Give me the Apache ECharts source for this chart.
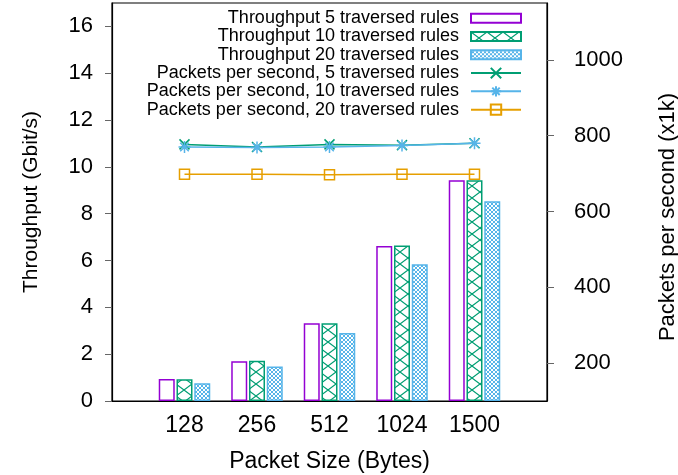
<!DOCTYPE html>
<html>
<head>
<meta charset="utf-8">
<script src="https://cdn.jsdelivr.net/npm/echarts@6/dist/echarts.min.js"></script>
<style>
  html, body { margin: 0; padding: 0; background: #fff; }
  #chart { width: 678px; height: 475px; }
</style>
</head>
<body>
<div id="chart"></div>
<script>
// data
const packetSizes = ['128', '256', '512', '1024', '1500'];
const tput5 = [0.94, 1.70, 3.32, 6.62, 9.43];
const tput10 = [0.93, 1.72, 3.32, 6.64, 9.43];
const tput20 = [0.76, 1.47, 2.90, 5.84, 8.53];
const pps5 = [777, 770, 777, 775, 780];
const pps10 = [770, 769, 770, 774, 780];
const pps20 = [698, 698, 697, 698, 698];
const leftTicks = [0, 2, 4, 6, 8, 10, 12, 14, 16];
const rightTicks = [200, 400, 600, 800, 1000];

const purple = '#9400d3';
const green = '#009e73';
const blue = '#56b4e9';
const orange = '#e69f00';
const font = "'Liberation Sans', Arial, sans-serif";

// hatch fills like gnuplot's fill patterns
function makePattern(w, h, color, lw, lines) {
    const c = document.createElement('canvas');
    c.width = w; c.height = h;
    const ctx = c.getContext('2d');
    ctx.fillStyle = '#fff';
    ctx.fillRect(0, 0, w, h);
    ctx.strokeStyle = color;
    ctx.lineWidth = lw;
    ctx.beginPath();
    lines.forEach(l => { ctx.moveTo(l[0], l[1]); ctx.lineTo(l[2], l[3]); });
    ctx.stroke();
    return { image: c, repeat: 'repeat' };
}
const greenFill = makePattern(16, 12, green, 1.2, [[0, 0, 16, 12], [16, 0, 0, 12]]);
const blueFill = makePattern(4, 4, blue, 1, [[0, 0, 4, 4], [4, 0, 0, 4], [-1, 3, 1, 5], [3, -1, 5, 1], [-1, 1, 1, -1], [3, 5, 5, 3]]);

// pad one empty slot each side (gnuplot xrange -1:5)
const cats = [''].concat(packetSizes, ['']);
const pad = arr => [null].concat(arr, [null]);

const names = [
    'Throughput 5 traversed rules',
    'Throughput 10 traversed rules',
    'Throughput 20 traversed rules',
    'Packets per second, 5 traversed rules',
    'Packets per second, 10 traversed rules',
    'Packets per second, 20 traversed rules'
];

const crossPath = 'path://M0 0L10 10M10 0L0 10';
const starPath = 'path://M2 2L12 12M12 2L2 12M7 0L7 14M0 7L14 7';

const chart = echarts.init(document.getElementById('chart'));

const barBase = { type: 'bar', barWidth: 16, barGap: '11%', yAxisIndex: 0 };
const legendBase = {
    orient: 'vertical',
    right: 156,
    align: 'right',
    padding: 0,
    itemWidth: 50, itemGap: 0,
    textStyle: { fontSize: 18, color: '#000', fontFamily: font, lineHeight: 18.3, padding: [0, 7, 0, 0] }
};

chart.setOption({
    animation: false,
    backgroundColor: '#fff',
    textStyle: { fontFamily: font },
    grid: {
        left: 112, right: 131, top: 3, bottom: 74,
        outerBoundsMode: 'none',
        containLabel: false,
        show: true, borderColor: '#000', borderWidth: 1.2
    },
    legend: [
        Object.assign({}, legendBase, {
            top: 9, itemHeight: 9,
            data: [
                { name: names[0], icon: 'rect' },
                { name: names[1], icon: 'rect' },
                { name: names[2], icon: 'rect' }
            ]
        }),
        Object.assign({}, legendBase, {
            top: 63.9, itemHeight: 13,
            data: [names[3], names[4], names[5]]
        })
    ],
    xAxis: {
        type: 'category',
        data: cats,
        boundaryGap: false,
        axisLine: { show: true, lineStyle: { color: '#000', width: 1.2 } },
        axisTick: { show: false },
        axisLabel: { fontSize: 23, color: '#000', margin: 13, interval: 0 },
        splitLine: { show: false },
        name: 'Packet Size (Bytes)',
        nameLocation: 'middle',
        nameGap: 49,
        nameTextStyle: { fontSize: 23, color: '#000' }
    },
    yAxis: [
        {
            type: 'value',
            position: 'left',
            min: 0, max: 17,
            axisLine: { show: true, lineStyle: { color: '#000', width: 1.2 } },
            axisTick: { show: true, length: 7, customValues: leftTicks, lineStyle: { color: '#666' } },
            axisLabel: { fontSize: 22, color: '#000', margin: 19, customValues: leftTicks },
            splitLine: { show: false },
            name: 'Throughput (Gbit/s)',
            nameLocation: 'middle',
            nameGap: 70,
            nameTextStyle: { fontSize: 21, color: '#000' }
        },
        {
            type: 'value',
            position: 'right',
            min: 100, max: 1150,
            axisLine: { show: true, lineStyle: { color: '#000', width: 1.2 } },
            axisTick: { show: true, length: 7, customValues: rightTicks, lineStyle: { color: '#666' } },
            axisLabel: { fontSize: 22, color: '#000', margin: 27, customValues: rightTicks, formatter: v => String(v) },
            splitLine: { show: false },
            name: 'Packets per second (x1k)',
            nameLocation: 'middle',
            nameGap: 110,
            nameTextStyle: { fontSize: 22, color: '#000', padding: [0, 30, 0, 0] }
        }
    ],
    series: [
        Object.assign({}, barBase, {
            name: names[0], data: pad(tput5),
            itemStyle: { color: 'rgba(255,255,255,0)', borderColor: purple, borderWidth: 1.5 }
        }),
        Object.assign({}, barBase, {
            name: names[1], data: pad(tput10),
            itemStyle: { color: greenFill, borderColor: green, borderWidth: 1.5 }
        }),
        Object.assign({}, barBase, {
            name: names[2], data: pad(tput20),
            itemStyle: { color: blueFill, borderColor: blue, borderWidth: 1.5 }
        }),
        {
            name: names[3], type: 'line', yAxisIndex: 1, data: pad(pps5),
            symbol: crossPath, symbolSize: 10,
            lineStyle: { color: green, width: 1.5 },
            itemStyle: { color: green, borderColor: green, borderWidth: 1.5 }
        },
        {
            name: names[4], type: 'line', yAxisIndex: 1, data: pad(pps10),
            symbol: starPath, symbolSize: 12,
            lineStyle: { color: blue, width: 1.5 },
            itemStyle: { color: blue, borderColor: blue, borderWidth: 1.5 }
        },
        {
            name: names[5], type: 'line', yAxisIndex: 1, data: pad(pps20),
            symbol: 'rect', symbolSize: 10,
            lineStyle: { color: orange, width: 1.5 },
            itemStyle: { color: 'rgba(255,255,255,0)', borderColor: orange, borderWidth: 1.5 }
        }
    ]
});
</script>
</body>
</html>
